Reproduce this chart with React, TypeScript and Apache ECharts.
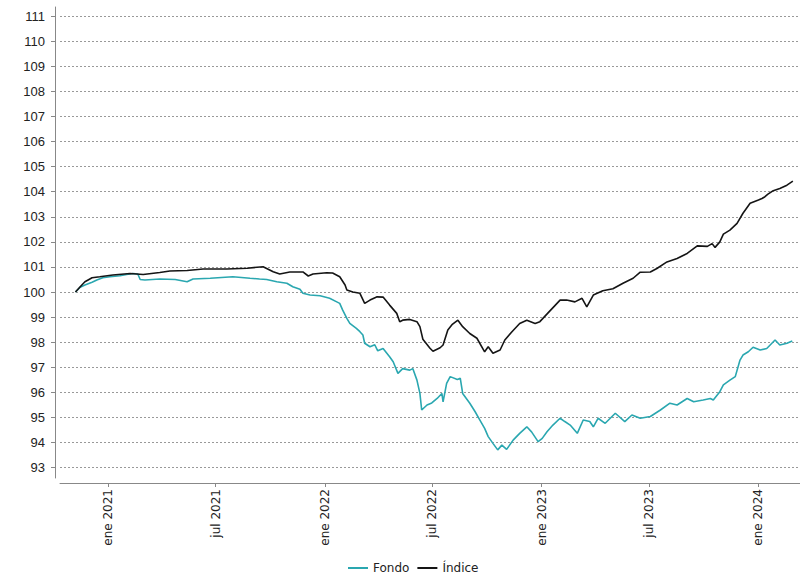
import React, { useEffect, useRef } from "react";
import * as echarts from "echarts";

const MONTHS = ["ene", "feb", "mar", "abr", "may", "jun", "jul", "ago", "sep", "oct", "nov", "dic"];

const xTickDates = ["2021-01-01", "2021-07-01", "2022-01-01", "2022-07-01", "2023-01-01", "2023-07-01", "2024-01-01"];
const yTickValues = [93, 94, 95, 96, 97, 98, 99, 100, 101, 102, 103, 104, 105, 106, 107, 108, 109, 110, 111];

const indiceDates = [
  "2020-11-07", "2020-11-15", "2020-11-23", "2020-12-05", "2020-12-18", "2021-01-09", "2021-02-07", "2021-03-01", "2021-03-29", "2021-04-15",
  "2021-05-14", "2021-06-10", "2021-07-20", "2021-08-23", "2021-09-19", "2021-10-06", "2021-10-17", "2021-11-03", "2021-11-25", "2021-12-04",
  "2021-12-12", "2022-01-04", "2022-01-14", "2022-01-26", "2022-02-04", "2022-02-07", "2022-02-17", "2022-03-01", "2022-03-09", "2022-03-18",
  "2022-03-30", "2022-04-09", "2022-04-20", "2022-05-02", "2022-05-07", "2022-05-12", "2022-05-24", "2022-06-05", "2022-06-10", "2022-06-15",
  "2022-06-27", "2022-07-02", "2022-07-14", "2022-07-19", "2022-07-27", "2022-08-03", "2022-08-13", "2022-08-21", "2022-09-02", "2022-09-14",
  "2022-09-27", "2022-10-03", "2022-10-11", "2022-10-23", "2022-10-31", "2022-11-12", "2022-11-25", "2022-12-07", "2022-12-21", "2022-12-29",
  "2023-01-11", "2023-02-01", "2023-02-12", "2023-02-26", "2023-03-10", "2023-03-18", "2023-03-29", "2023-04-14", "2023-05-01", "2023-05-18",
  "2023-06-04", "2023-06-16", "2023-07-03", "2023-07-14", "2023-07-31", "2023-08-17", "2023-09-03", "2023-09-20", "2023-10-07", "2023-10-15",
  "2023-10-20", "2023-10-28", "2023-11-03", "2023-11-14", "2023-11-26", "2023-12-06", "2023-12-18", "2024-01-01", "2024-01-07", "2024-01-12",
  "2024-01-17", "2024-01-26", "2024-02-06", "2024-02-18", "2024-02-28",
];
const indiceValues = [
  100.0, 100.21, 100.41, 100.57, 100.61, 100.68, 100.74, 100.7, 100.78, 100.84,
  100.86, 100.92, 100.92, 100.95, 101.01, 100.81, 100.72, 100.8, 100.8, 100.64,
  100.72, 100.77, 100.76, 100.61, 100.28, 100.08, 100.0, 99.95, 99.55, 99.68,
  99.81, 99.8, 99.48, 99.15, 98.82, 98.88, 98.91, 98.82, 98.62, 98.12,
  97.76, 97.64, 97.78, 97.89, 98.49, 98.7, 98.88, 98.62, 98.35, 98.16,
  97.62, 97.82, 97.56, 97.69, 98.09, 98.42, 98.75, 98.88, 98.75, 98.82,
  99.15, 99.68, 99.68, 99.61, 99.75, 99.41, 99.88, 100.05, 100.13, 100.35,
  100.55, 100.79, 100.8, 100.94, 101.2, 101.34, 101.54, 101.84, 101.82, 101.93,
  101.78, 102.0, 102.31, 102.47, 102.74, 103.14, 103.54, 103.67, 103.73, 103.8,
  103.9, 104.04, 104.13, 104.26, 104.42,
];

const fondoDates = [
  "2020-11-07", "2020-11-15", "2020-11-23", "2020-12-05", "2020-12-13", "2020-12-23", "2021-01-04", "2021-01-21", "2021-02-01", "2021-02-12",
  "2021-02-20", "2021-02-24", "2021-03-04", "2021-03-29", "2021-04-24", "2021-05-14", "2021-05-24", "2021-06-22", "2021-07-30", "2021-08-28",
  "2021-09-13", "2021-09-25", "2021-10-12", "2021-10-29", "2021-11-08", "2021-11-20", "2021-11-25", "2021-12-07", "2021-12-24", "2022-01-09",
  "2022-01-21", "2022-01-26", "2022-01-31", "2022-02-07", "2022-02-12", "2022-02-23", "2022-03-01", "2022-03-06", "2022-03-09", "2022-03-18",
  "2022-03-26", "2022-03-31", "2022-04-09", "2022-04-20", "2022-04-26", "2022-05-04", "2022-05-12", "2022-05-24", "2022-05-29", "2022-06-05",
  "2022-06-10", "2022-06-13", "2022-06-22", "2022-06-30", "2022-07-09", "2022-07-17", "2022-07-19", "2022-07-25", "2022-07-31", "2022-08-12",
  "2022-08-17", "2022-08-21", "2022-09-02", "2022-09-11", "2022-09-19", "2022-09-27", "2022-10-03", "2022-10-11", "2022-10-19", "2022-10-26",
  "2022-11-03", "2022-11-14", "2022-11-25", "2022-12-07", "2022-12-15", "2022-12-26", "2023-01-02", "2023-01-10", "2023-01-20", "2023-02-01",
  "2023-02-09", "2023-02-18", "2023-03-02", "2023-03-12", "2023-03-23", "2023-03-29", "2023-04-06", "2023-04-18", "2023-05-05", "2023-05-21",
  "2023-06-02", "2023-06-16", "2023-07-03", "2023-07-20", "2023-08-05", "2023-08-17", "2023-09-03", "2023-09-14", "2023-09-30", "2023-10-12",
  "2023-10-17", "2023-10-28", "2023-11-03", "2023-11-14", "2023-11-23", "2023-12-01", "2023-12-06", "2023-12-15", "2023-12-23", "2024-01-04",
  "2024-01-15", "2024-01-29", "2024-02-06", "2024-02-18", "2024-02-27",
];
const fondoValues = [
  100.0, 100.19, 100.28, 100.39, 100.48, 100.57, 100.61, 100.65, 100.7, 100.74,
  100.72, 100.5, 100.48, 100.52, 100.5, 100.41, 100.52, 100.55, 100.61, 100.55,
  100.52, 100.5, 100.41, 100.35, 100.21, 100.11, 99.95, 99.88, 99.85, 99.75,
  99.61, 99.55, 99.28, 98.95, 98.75, 98.55, 98.42, 98.29, 97.96, 97.82,
  97.9, 97.66, 97.75, 97.42, 97.22, 96.76, 96.95, 96.89, 96.95, 96.49,
  95.96, 95.3, 95.5, 95.58, 95.76, 95.96, 95.62, 96.36, 96.63, 96.52,
  96.56, 95.96, 95.57, 95.23, 94.9, 94.57, 94.24, 93.97, 93.71, 93.9,
  93.73, 94.1, 94.37, 94.63, 94.43, 94.04, 94.17, 94.43, 94.7, 94.97,
  94.84, 94.7, 94.37, 94.9, 94.84, 94.63, 94.97, 94.77, 95.17, 94.84,
  95.1, 94.97, 95.04, 95.3, 95.57, 95.5, 95.76, 95.63, 95.7, 95.76,
  95.7, 96.03, 96.3, 96.49, 96.63, 97.29, 97.49, 97.62, 97.8, 97.69,
  97.75, 98.09, 97.89, 97.96, 98.05,
];

const toTime = (s: string) => {
  const [y, m, d] = s.split("-").map(Number);
  return Date.UTC(y, m - 1, d);
};

export default function App() {
  const ref = useRef<HTMLDivElement>(null);

  useEffect(() => {
    if (!ref.current) return;
    const chart = echarts.init(ref.current, null, { renderer: "svg" });
    const xTicks = xTickDates.map(toTime);
    chart.setOption({
      animation: false,
      backgroundColor: "#ffffff",
      grid: { left: 60, right: 0, top: 7, bottom: 99, containLabel: false },
      legend: {
        left: 348,
        top: 560,
        icon: "rect",
        itemWidth: 20,
        itemHeight: 2,
        itemGap: 8,
        padding: 0,
        textStyle: { fontFamily: "DejaVu Sans", fontSize: 12, color: "#222", lineHeight: 16 },
        data: ["Fondo", "Índice"],
      },
      xAxis: {
        type: "value",
        min: toTime("2020-10-12"),
        max: toTime("2024-03-11"),
        offset: 5,
        axisLine: { show: true, lineStyle: { color: "#888", width: 1 } },
        axisTick: { show: true, length: 4, lineStyle: { color: "#888" }, customValues: xTicks },
        splitLine: { show: false },
        axisLabel: {
          customValues: xTicks,
          rotate: 90,
          margin: 6,
          fontFamily: "DejaVu Sans",
          fontSize: 12,
          color: "#222",
          formatter: (v: number) => {
            const d = new Date(v);
            return MONTHS[d.getUTCMonth()] + " " + d.getUTCFullYear();
          },
        },
      },
      yAxis: {
        type: "value",
        min: 92.59,
        max: 111.36,
        offset: 5,
        axisLine: { show: true, lineStyle: { color: "#888", width: 1 } },
        axisTick: { show: true, length: 4, lineStyle: { color: "#888" }, customValues: yTickValues },
        axisLabel: {
          customValues: yTickValues,
          margin: 10,
          fontFamily: "Liberation Sans",
          fontSize: 13,
          color: "#222",
        },
        splitLine: { show: true, lineStyle: { color: "#999", type: [2, 2], width: 1 } },
      },
      series: [
        {
          name: "Fondo",
          type: "line",
          symbol: "none",
          showSymbol: false,
          color: "#2aa7b0",
          lineStyle: { width: 1.6, color: "#2aa7b0" },
          data: fondoDates.map((d, i) => [toTime(d), fondoValues[i]]),
        },
        {
          name: "Índice",
          type: "line",
          symbol: "none",
          showSymbol: false,
          color: "#151515",
          lineStyle: { width: 1.6, color: "#151515" },
          data: indiceDates.map((d, i) => [toTime(d), indiceValues[i]]),
        },
      ],
    });
    return () => chart.dispose();
  }, []);

  return (
    <div
      ref={ref}
      style={{ position: "fixed", left: 0, top: 0, width: 800, height: 577, background: "#fff" }}
    />
  );
}
